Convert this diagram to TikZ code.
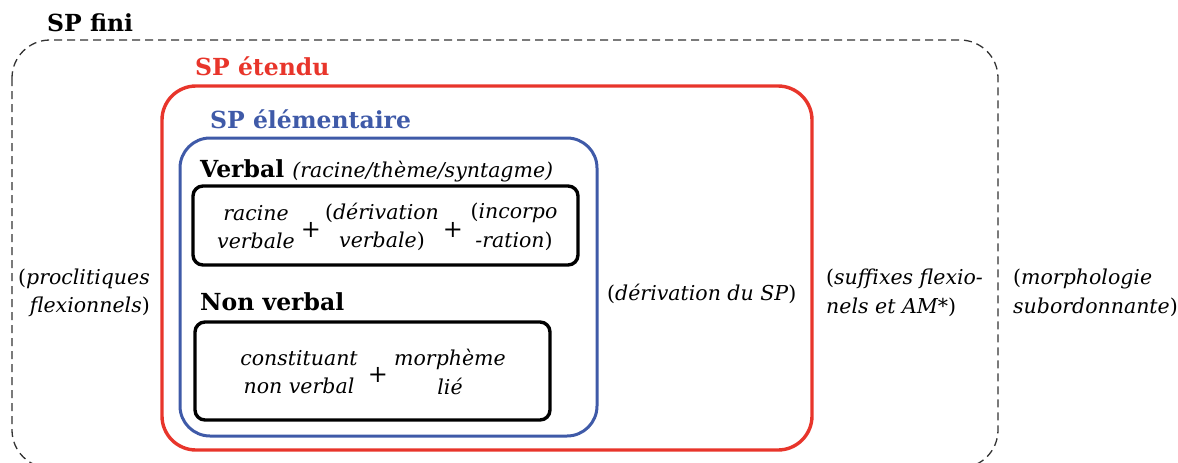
\documentclass[tikz,border=0pt]{standalone}
\usepackage{fontspec}
\setmainfont{DejaVu Serif}
\usetikzlibrary{positioning}
\definecolor{spred}{HTML}{E8352B}
\definecolor{spblue}{HTML}{3F5AA8}
\newcommand{\po}{\textup{(}}
\newcommand{\pf}{\textup{)}}

\tikzset{
  frame/.style={rounded corners=#1},
  title/.style={inner sep=0pt, anchor=base west, font=\bfseries\fontsize{23.5}{26}\selectfont},
  gloss/.style={inner sep=0pt, font=\itshape\fontsize{20.5}{28.5}\selectfont},
  plus/.style={inner sep=0pt, font=\fontsize{24}{26}\selectfont}
}

\begin{document}
\begin{tikzpicture}[x=1pt,y=-1pt]
\useasboundingbox (0,0) rectangle (1178,463);
% cadres
\draw[frame=38, dashed, line width=1.3pt, dash pattern=on 8pt off 5pt, black!80] (12,40) rectangle (998,468);
\draw[frame=34, spred, line width=3.4pt] (162,86) rectangle (812,450);
\draw[frame=30, spblue, line width=3pt] (180,138) rectangle (597,436);
\draw[frame=10, line width=3.4pt] (193,186) rectangle (578,265);
\draw[frame=10, line width=3.4pt] (195,322) rectangle (550,420);
% titres
\node[title] (fini) at (47,31) {SP fini};
\node[title, spred] (etendu) at (195,75) {SP étendu};
\node[title, spblue] (elem) at (210,128) {SP élémentaire};
\node[title] (verbal) at (200,177) {Verbal \mdseries\itshape\fontsize{20.5}{24}\selectfont(racine/thème/syntagme)};
\node[title] (nonverbal) at (200,310) {Non verbal};
% verbal
\node[gloss, align=center] (racine) at (256,227) {racine\\verbale};
\node[plus] (p1) at (311,230) {+};
\node[gloss, align=center] (deriv) at (382,227) {\po dérivation\\verbale\pf};
\node[plus] (p2) at (453,230) {+};
\node[gloss, align=center] (incorp) at (514,227) {\po incorpo\\-ration\pf};
% non verbal
\node[gloss, align=center] (const) at (299,372) {constituant\\non verbal};
\node[plus] (p3) at (378,375) {+};
\node[gloss, align=center] (morph) at (450,372) {morphème\\lié};
% marges
\node[gloss, align=right, anchor=east] (procl) at (150,293) {\po proclitiques\\flexionnels\pf};
\node[gloss, anchor=west] (derivsp) at (607,294) {\po dérivation du SP\pf};
\node[gloss, align=left, anchor=west] (suff) at (826,293) {\po suffixes flexio-\\nels et AM*\pf};
\node[gloss, align=left, anchor=west] (subord) at (1013,293) {\po morphologie\\subordonnante\pf};
\end{tikzpicture}
\end{document}
